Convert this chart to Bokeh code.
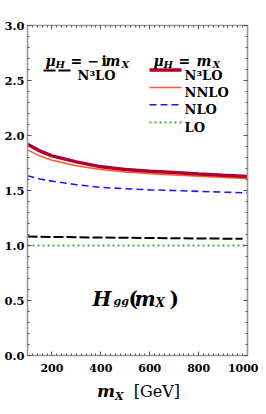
from bokeh.plotting import figure
from bokeh.models import Label, FixedTicker, PrintfTickFormatter, LinearAxis, Range1d, CustomJSTickFormatter, Div
from bokeh.layouts import column
from bokeh.embed import file_html
from bokeh.resources import INLINE

# ---- data ----
mx = [100, 150, 200, 300, 400, 500, 600, 700, 800, 900, 1000]
n3lo = [1.92, 1.86, 1.815, 1.76, 1.715, 1.69, 1.675, 1.663, 1.65, 1.638, 1.627]
nnlo = [1.87, 1.815, 1.775, 1.725, 1.69, 1.668, 1.653, 1.642, 1.63, 1.619, 1.608]
nlo = [1.635, 1.605, 1.585, 1.553, 1.528, 1.516, 1.506, 1.50, 1.492, 1.485, 1.478]
lo = [1.0, 1.0, 1.0, 1.0, 1.0, 1.0, 1.0, 1.0, 1.0, 1.0, 1.0]
mx_im = [100, 200, 400, 600, 800, 980]
n3lo_im = [1.082, 1.078, 1.072, 1.068, 1.064, 1.061]

x_ticks = [200, 400, 600, 800, 1000]
x_minor = list(range(100, 1001, 20))
y_ticks = [0.0, 0.5, 1.0, 1.5, 2.0, 2.5, 3.0]
y_minor = [i / 10 for i in range(31)]

C_N3LO = "#b0002e"
C_NNLO = "#ff5a2a"
C_NLO = "#1a1aff"
C_LO = "#33bb33"

p = figure(width=258, height=377, x_range=Range1d(100, 1000), y_range=Range1d(0, 3),
           output_backend="svg", toolbar_location=None,
           min_border_left=27, min_border_right=11, min_border_top=25, min_border_bottom=22)
p.xgrid.visible = False
p.ygrid.visible = False
p.outline_line_color = None
p.background_fill_color = "white"
p.border_fill_color = "white"

AX_COL = "#9a9a9a"
TICK_COL = "#555555"


def style_axis(ax, size="11.5px"):
    ax.axis_line_color = AX_COL
    ax.axis_line_width = 1.6
    ax.major_tick_in = 4
    ax.major_tick_out = 0
    ax.minor_tick_in = 2
    ax.minor_tick_out = 0
    ax.major_tick_line_color = TICK_COL
    ax.minor_tick_line_color = TICK_COL
    ax.major_label_text_font = "DejaVu Serif"
    ax.major_label_text_font_style = "bold"
    ax.major_label_text_font_size = size
    ax.major_label_text_color = "black"


p.xaxis.ticker = FixedTicker(ticks=x_ticks, minor_ticks=x_minor)
p.yaxis.ticker = FixedTicker(ticks=y_ticks, minor_ticks=y_minor)
p.yaxis.formatter = PrintfTickFormatter(format="%.1f")
style_axis(p.xaxis[0], "11px")
style_axis(p.yaxis[0])
p.xaxis.major_label_standoff = 8
p.yaxis.major_label_standoff = 3

blank = CustomJSTickFormatter(code="return ''")
top = LinearAxis(ticker=FixedTicker(ticks=x_ticks, minor_ticks=x_minor), formatter=blank)
right = LinearAxis(ticker=FixedTicker(ticks=y_ticks, minor_ticks=y_minor), formatter=blank)
style_axis(top)
style_axis(right)
p.add_layout(top, "above")
p.add_layout(right, "right")

# ---- curves ----
p.line(mx, lo, line_color=C_LO, line_width=2, line_dash="2 3")
p.line(mx, nlo, line_color=C_NLO, line_width=1.6, line_dash="7 4")
p.line(mx_im, n3lo_im, line_color="black", line_width=2, line_dash="10 3")
p.line(mx, nnlo, line_color=C_NNLO, line_width=1.5)
p.line(mx, n3lo, line_color=C_N3LO, line_width=3.5)


def px2x(px):
    return 100 + (px - 27) * 900 / 220


def py2y(py):
    return (355 - py) / 110


def lab(text, px, py, size, style="bold", font="DejaVu Serif"):
    p.add_layout(Label(x=px2x(px), y=py2y(py), text=text, text_font=font,
                       text_font_size=f"{size}px", text_font_style=style,
                       text_color="black", text_baseline="alphabetic", text_align="left"))


# ---- legend ----
lx0, lx1 = px2x(149), px2x(181)
p.line([lx0, lx1], [py2y(69.5)] * 2, line_color=C_N3LO, line_width=3.5)
p.line([lx0, lx1], [py2y(87)] * 2, line_color=C_NNLO, line_width=1.5)
p.line([lx0, lx1], [py2y(104.3)] * 2, line_color=C_NLO, line_width=1.6, line_dash="7 4")
p.line([lx0, lx1], [py2y(122)] * 2, line_color=C_LO, line_width=2, line_dash="2 3")
p.line([px2x(43), px2x(72)], [py2y(70)] * 2, line_color="black", line_width=2, line_dash="12 3")

for t, py in zip(["N\u00b3LO", "NNLO", "NLO", "LO"], [70, 87, 104.3, 122]):
    lab(t, 184, py + 4.5, 13)
lab("N\u00b3LO", 77, 74.5, 13)

# headers: mu_H = -i m_X  and  mu_H = m_X
lab("\u03bc", 45, 60, 14, "bold italic")
lab("H", 55, 64, 10, "bold italic")
lab("=", 70, 60, 14)
lab("\u2212", 87, 60, 14)
lab("i", 101, 60, 14)
lab("m", 105, 60, 14, "bold italic")
lab("X", 121, 64, 10, "bold italic")

lab("\u03bc", 153, 60, 14, "bold italic")
lab("H", 163, 64, 10, "bold italic")
lab("=", 178, 60, 14)
lab("m", 196, 60, 14, "bold italic")
lab("X", 212, 64, 10, "bold italic")

# H_gg(m_X)
lab("H", 92, 298, 20, "bold italic")
lab("gg", 113, 301, 11, "bold italic")
lab("(", 128, 298, 20)
lab("m", 134, 298, 20, "bold italic")
lab("X", 155, 302, 12, "bold italic")
lab(")", 169, 298, 20)

# x axis title (below the plot, as real text)
xtitle = Div(width=258, height=21, text=(
    '<div style="padding-left:92px; white-space:nowrap; line-height:19px; font-family:\'DejaVu Serif\'; color:black">'
    '<span style="font-size:17px; font-weight:bold; font-style:italic">m</span>'
    '<span style="font-size:11px; font-weight:bold; font-style:italic; position:relative; top:3px">X</span>'
    '<span style="font-size:16px">&nbsp;&nbsp;[GeV]</span></div>'))

layout = column(p, xtitle, spacing=0)
open("out.html", "w").write(file_html(layout, INLINE))
